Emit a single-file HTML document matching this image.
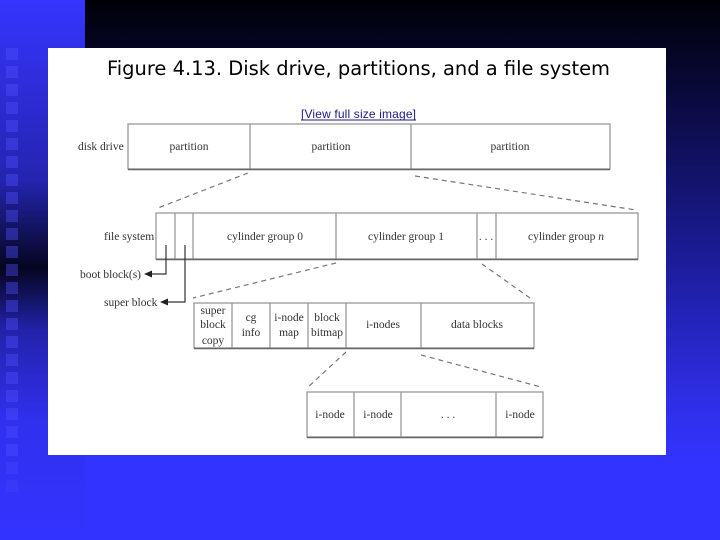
<!DOCTYPE html>
<html><head><style>
html,body{margin:0;padding:0}
body{width:720px;height:540px;position:relative;overflow:hidden;background:#3333ff}
#tr{position:absolute;left:85px;top:0;width:635px;height:540px;background:linear-gradient(#000008 0px,#0a0a40 100px,#1c1c99 260px,#2e2ee6 400px,#3333ff 460px)}
#lf{position:absolute;left:0;top:0;width:85px;height:540px;background:linear-gradient(#3535ff 0px,#2424b0 180px,#050520 268px,#2222aa 330px,#3030ee 420px,#3333ff 540px)}
#panel{position:absolute;left:48px;top:48px;width:618px;height:407px;background:#fff}
</style></head><body>
<div id="lf"></div><div id="tr"></div>
<div id="panel"></div>
<svg width="720" height="540" style="position:absolute;left:0;top:0" font-family="'Liberation Serif',serif" font-size="11.5" fill="#333">
<g fill="#5050ff" opacity=".4">
<rect x="6" y="48" width="12" height="12"/>
<rect x="6" y="66" width="12" height="12"/>
<rect x="6" y="84" width="12" height="12"/>
<rect x="6" y="102" width="12" height="12"/>
<rect x="6" y="120" width="12" height="12"/>
<rect x="6" y="138" width="12" height="12"/>
<rect x="6" y="156" width="12" height="12"/>
<rect x="6" y="174" width="12" height="12"/>
<rect x="6" y="192" width="12" height="12"/>
<rect x="6" y="210" width="12" height="12"/>
<rect x="6" y="228" width="12" height="12"/>
<rect x="6" y="246" width="12" height="12"/>
<rect x="6" y="264" width="12" height="12"/>
<rect x="6" y="282" width="12" height="12"/>
<rect x="6" y="300" width="12" height="12"/>
<rect x="6" y="318" width="12" height="12"/>
<rect x="6" y="336" width="12" height="12"/>
<rect x="6" y="354" width="12" height="12"/>
<rect x="6" y="372" width="12" height="12"/>
<rect x="6" y="390" width="12" height="12"/>
<rect x="6" y="408" width="12" height="12"/>
<rect x="6" y="426" width="12" height="12"/>
<rect x="6" y="444" width="12" height="12"/>
<rect x="6" y="462" width="12" height="12" opacity=".7"/>
<rect x="6" y="480" width="12" height="12" opacity=".5"/>
</g>
<text x="107" y="75" font-family="'DejaVu Sans','Liberation Sans',sans-serif" font-size="19.5" fill="#000" textLength="503" lengthAdjust="spacingAndGlyphs">Figure 4.13. Disk drive, partitions, and a file system</text>
<text x="301" y="118" font-family="'Liberation Sans',sans-serif" font-size="12" fill="#1a1a80" textLength="115">[View full size image]</text>
<line x1="301" y1="120" x2="416" y2="120" stroke="#1a1a80"/>
<g fill="none" stroke="#999" stroke-width="1.3">
<rect x="128" y="124" width="482" height="45"/>
<line x1="250" y1="124" x2="250" y2="169"/><line x1="411" y1="124" x2="411" y2="169"/>
<rect x="156" y="213" width="482" height="46"/>
<line x1="175" y1="213" x2="175" y2="259"/><line x1="193" y1="213" x2="193" y2="259"/><line x1="336" y1="213" x2="336" y2="259"/><line x1="477" y1="213" x2="477" y2="259"/><line x1="496" y1="213" x2="496" y2="259"/>
<rect x="194" y="303" width="340" height="45"/>
<line x1="232" y1="303" x2="232" y2="348"/><line x1="270" y1="303" x2="270" y2="348"/><line x1="308" y1="303" x2="308" y2="348"/><line x1="346" y1="303" x2="346" y2="348"/><line x1="421" y1="303" x2="421" y2="348"/>
<rect x="307" y="392" width="236" height="45"/>
<line x1="354" y1="392" x2="354" y2="437"/><line x1="401" y1="392" x2="401" y2="437"/><line x1="496" y1="392" x2="496" y2="437"/>
</g>
<g stroke="#666" stroke-width="1.5">
<line x1="128" y1="169.5" x2="610" y2="169.5"/><line x1="156" y1="259.5" x2="638" y2="259.5"/><line x1="194" y1="348.5" x2="534" y2="348.5"/><line x1="307" y1="437.5" x2="543" y2="437.5"/>
</g>
<g stroke="#777" stroke-width="1.2" stroke-dasharray="5,4" fill="none">
<line x1="248" y1="173" x2="158" y2="208"/><line x1="415" y1="176" x2="636" y2="210"/>
<line x1="336" y1="263" x2="193" y2="298"/><line x1="482" y1="264" x2="530" y2="298"/>
<line x1="346" y1="352" x2="307" y2="388"/><line x1="421" y1="355" x2="541" y2="387"/>
</g>
<g stroke="#333" stroke-width="1.2" fill="none">
<polyline points="166,245 166,274 150,274"/><polyline points="185,245 185,302 167,302"/>
</g>
<polygon points="144,274 152,270.5 152,277.5" fill="#222"/>
<polygon points="160,302 168,298.5 168,305.5" fill="#222"/>
<g text-anchor="middle">
<text x="189" y="150">partition</text><text x="331" y="150">partition</text><text x="510" y="150">partition</text>
<text x="265" y="240">cylinder group 0</text><text x="406" y="240">cylinder group 1</text><text x="486" y="240">. . .</text><text x="566" y="240">cylinder group <tspan font-style="italic">n</tspan></text>
<text x="213" y="314">super</text><text x="213" y="328">block</text><text x="213" y="344">copy</text>
<text x="251" y="321">cg</text><text x="251" y="336">info</text>
<text x="289" y="321">i-node</text><text x="289" y="336">map</text>
<text x="327" y="321">block</text><text x="327" y="336">bitmap</text>
<text x="383" y="328">i-nodes</text><text x="477" y="328">data blocks</text>
<text x="330" y="418">i-node</text><text x="378" y="418">i-node</text><text x="448" y="418">. . .</text><text x="520" y="418">i-node</text>
</g>
<text x="78" y="150">disk drive</text>
<text x="104" y="240">file system</text>
<text x="80" y="278">boot block(s)</text>
<text x="104" y="306">super block</text>
</svg>
</body></html>
